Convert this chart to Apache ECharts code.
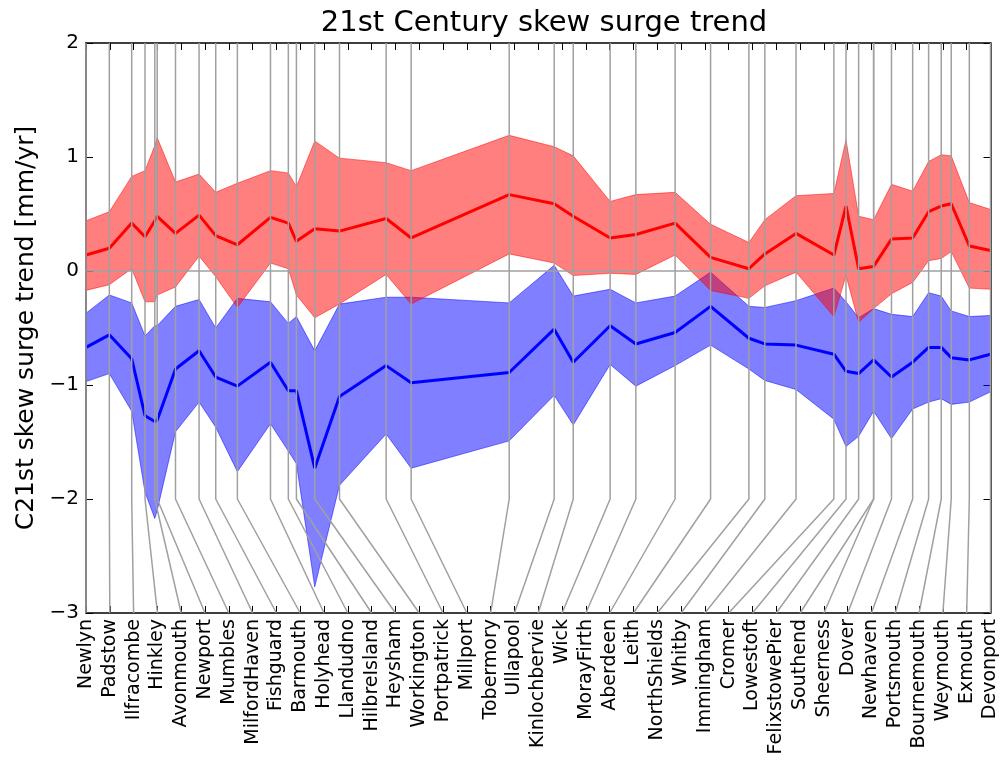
<!DOCTYPE html>
<html>
<head>
<meta charset="utf-8">
<script src="https://cdn.jsdelivr.net/npm/echarts@6.0.0/dist/echarts.min.js"></script>
<style>
html, body { margin: 0; padding: 0; background: #fff; }
#chart { width: 1000px; height: 763px; }
</style>
</head>
<body>
<div id="chart"></div>
<script>
// tide gauge names, in the order they sit along the x axis labels
const stations = ['Newlyn', 'Padstow', 'Ilfracombe', 'Hinkley', 'Avonmouth', 'Newport', 'Mumbles',
    'MilfordHaven', 'Fishguard', 'Barmouth', 'Holyhead', 'Llandudno', 'HilbreIsland', 'Heysham',
    'Workington', 'Portpatrick', 'Millport', 'Tobermory', 'Ullapool', 'Kinlochbervie', 'Wick',
    'MorayFirth', 'Aberdeen', 'Leith', 'NorthShields', 'Whitby', 'Immingham', 'Cromer', 'Lowestoft',
    'FelixstowePier', 'Southend', 'Sheerness', 'Dover', 'Newhaven', 'Portsmouth', 'Bournemouth',
    'Weymouth', 'Exmouth', 'Devonport'];

// where each station really sits along the coast (in label-slot units)
const stationPos = [0, 0.98, 1.92, 2.48, 2.89, 2.99, 3.76, 4.75, 5.45, 6.36, 7.75, 8.50, 8.84, 9.61,
    10.65, 12.61, 13.66, 17.78, 19.67, 20.47, 22.02, 23.10, 24.75, 26.24, 27.85, 28.52, 29.83,
    31.42, 31.93, 32.46, 33.09, 33.09, 33.84, 34.73, 35.40, 35.93, 36.35, 37.11, 38];

// positive trend (red)
const redUpper = [0.44, 0.52, 0.83, 0.88, 1.10, 1.17, 0.78, 0.85, 0.69, 0.77, 0.88, 0.86, 0.74, 1.14,
    0.99, 0.95, 0.88, 1.19, 1.09, 1.01, 0.61, 0.67, 0.69, 0.41, 0.25, 0.45, 0.66, 0.68, 1.15,
    0.48, 0.45, 0.45, 0.76, 0.70, 0.96, 1.02, 1.01, 0.60, 0.54];
const redMean = [0.14, 0.20, 0.42, 0.30, 0.44, 0.48, 0.33, 0.49, 0.31, 0.23, 0.47, 0.42, 0.26, 0.37,
    0.35, 0.46, 0.29, 0.67, 0.59, 0.48, 0.29, 0.32, 0.42, 0.12, 0.02, 0.15, 0.33, 0.14, 0.57,
    0.02, 0.04, 0.04, 0.28, 0.29, 0.52, 0.57, 0.59, 0.22, 0.18];
const redLower = [-0.17, -0.12, 0.02, -0.27, -0.27, -0.21, -0.14, 0.13, -0.05, -0.32, 0.07, 0.02, -0.21, -0.41,
    -0.29, -0.03, -0.29, 0.15, 0.07, -0.04, -0.02, -0.03, 0.14, -0.17, -0.24, -0.13, -0.01, -0.40, -0.04,
    -0.45, -0.33, -0.33, -0.20, -0.10, 0.09, 0.11, 0.17, -0.15, -0.16];

// negative trend (blue)
const blueUpper = [-0.37, -0.21, -0.28, -0.57, -0.48, -0.48, -0.31, -0.25, -0.50, -0.24, -0.27, -0.46, -0.40, -0.70,
    -0.29, -0.23, -0.23, -0.28, 0.05, -0.22, -0.16, -0.28, -0.22, -0.01, -0.31, -0.32, -0.26, -0.15, -0.27,
    -0.41, -0.33, -0.33, -0.38, -0.40, -0.19, -0.22, -0.35, -0.40, -0.39];
const blueMean = [-0.67, -0.56, -0.77, -1.27, -1.32, -1.31, -0.86, -0.70, -0.93, -1.01, -0.80, -1.05, -1.05, -1.73,
    -1.10, -0.83, -0.98, -0.89, -0.51, -0.80, -0.48, -0.64, -0.54, -0.31, -0.59, -0.64, -0.65, -0.73, -0.88,
    -0.90, -0.78, -0.78, -0.93, -0.80, -0.67, -0.67, -0.76, -0.78, -0.73];
const blueLower = [-0.97, -0.90, -1.23, -1.94, -2.17, -2.10, -1.41, -1.15, -1.37, -1.76, -1.34, -1.58, -1.69, -2.77,
    -1.88, -1.43, -1.73, -1.49, -1.09, -1.35, -0.82, -1.01, -0.83, -0.65, -0.86, -0.96, -1.04, -1.30, -1.54,
    -1.45, -1.23, -1.23, -1.47, -1.21, -1.15, -1.12, -1.17, -1.15, -1.06];

const yTicks = [-3, -2, -1, 0, 1, 2];
const yMin = yTicks[0], yMax = yTicks[yTicks.length - 1];
const bendY = -2; // connector lines leave the station column here

const FONT = 'DejaVu Sans';
const chart = echarts.init(document.getElementById('chart'));

function bandSeries(name, upper, lower, color, z) {
    return {
        name: name,
        type: 'custom',
        coordinateSystem: 'cartesian2d',
        silent: true,
        z: z,
        data: stationPos.map((p, i) => [p, upper[i], lower[i]]),
        encode: { x: 0, y: [1, 2] },
        renderItem: function (params, api) {
            if (params.dataIndex !== 0) return null;
            const pts = [];
            for (let i = 0; i < stationPos.length; i++) pts.push(api.coord([stationPos[i], upper[i]]));
            for (let i = stationPos.length - 1; i >= 0; i--) pts.push(api.coord([stationPos[i], lower[i]]));
            return {
                type: 'polygon',
                shape: { points: pts },
                style: { fill: color, stroke: color, lineWidth: 1 }
            };
        }
    };
}

function meanSeries(name, values, color) {
    return {
        name: name,
        type: 'line',
        silent: true,
        z: 4,
        symbol: 'none',
        data: stationPos.map((p, i) => [p, values[i]]),
        lineStyle: { color: color, width: 3 }
    };
}

// grey connectors: straight up from the station, then slanted to its label slot
const connectors = stations.map((s, i) => ({
    type: 'line',
    silent: true,
    z: 6,
    symbol: 'none',
    data: [[stationPos[i], yMax], [stationPos[i], bendY], [i, yMin]],
    lineStyle: { color: '#a0a0a0', width: 1.5 }
}));

const zeroLine = {
    type: 'line',
    silent: true,
    z: 6,
    symbol: 'none',
    data: [[0, 0], [stations.length - 1, 0]],
    lineStyle: { color: '#a0a0a0', width: 1.5 }
};

const minus = v => (v < 0 ? '\u2212' + (-v) : String(v));

const xBase = {
    type: 'value',
    min: 0,
    max: stations.length - 1,
    interval: 1,
    axisLine: { onZero: false, lineStyle: { color: '#000', width: 1.5 } },
    axisTick: { inside: true, length: 7, lineStyle: { color: '#000', width: 1 } },
    splitLine: { show: false }
};
const yBase = {
    type: 'value',
    min: yMin,
    max: yMax,
    interval: 1,
    axisLine: { show: true, onZero: false, lineStyle: { color: '#000', width: 1.5 } },
    axisTick: { show: true, inside: true, length: 7, lineStyle: { color: '#000', width: 1 } },
    splitLine: { show: false }
};

chart.setOption({
    animation: false,
    backgroundColor: '#fff',
    title: {
        text: '21st Century skew surge trend',
        left: 539,
        top: 4,
        textAlign: 'center',
        textStyle: { fontFamily: FONT, fontSize: 29, fontWeight: 'normal', color: '#000' }
    },
    grid: { left: 86, right: 8, top: 43, bottom: 150 },
    xAxis: [
        Object.assign({}, xBase, {
            position: 'bottom',
            axisLabel: {
                rotate: 90,
                margin: 6,
                fontFamily: FONT,
                fontSize: 19,
                color: '#000',
                showMinLabel: true,
                showMaxLabel: true,
                formatter: v => stations[Math.round(v)]
            }
        }),
        Object.assign({}, xBase, { position: 'top', axisLabel: { show: false } })
    ],
    yAxis: [
        Object.assign({}, yBase, {
            position: 'left',
            name: 'C21st skew surge trend [mm/yr]',
            nameLocation: 'middle',
            nameGap: 44,
            nameRotate: 90,
            nameTextStyle: { fontFamily: FONT, fontSize: 25, color: '#000' },
            axisLabel: { margin: 7, fontFamily: FONT, fontSize: 20, color: '#000', formatter: minus }
        }),
        Object.assign({}, yBase, { position: 'right', axisLabel: { show: false } })
    ],
    series: [
        bandSeries('blue band', blueUpper, blueLower, 'rgba(0,0,255,0.5)', 1),
        bandSeries('red band', redUpper, redLower, 'rgba(255,0,0,0.5)', 2),
        meanSeries('blue mean', blueMean, '#0000ff'),
        meanSeries('red mean', redMean, '#ff0000'),
        zeroLine
    ].concat(connectors)
});
</script>
</body>
</html>
